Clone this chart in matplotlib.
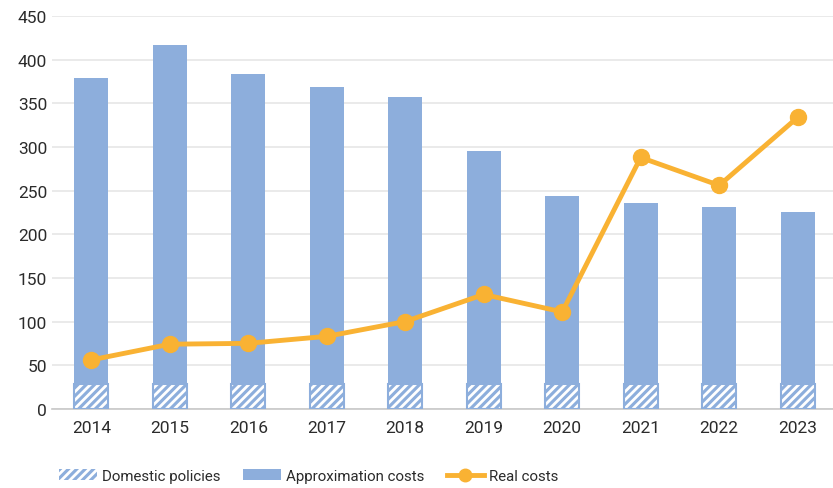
import numpy as np
import matplotlib
matplotlib.use("Agg")
import matplotlib.pyplot as plt
from matplotlib.patches import Patch
from matplotlib.lines import Line2D

plt.rcParams['font.family'] = ['Roboto', 'DejaVu Sans']
plt.rcParams['hatch.linewidth'] = 2.0

years = ['2014', '2015', '2016', '2017', '2018', '2019', '2020', '2021', '2022', '2023']
approx_costs = [379, 417, 384, 369, 357, 295, 244, 236, 231, 226]
domestic = [28, 28, 28, 28, 28, 28, 28, 28, 28, 28]
real_costs = [56, 74, 75, 83, 100, 131, 111, 288, 256, 334]

blue = '#8DAEDC'
orange = '#F9B233'

fig = plt.figure(figsize=(8.33, 4.89), dpi=100)
ax = fig.add_axes([0.0625, 0.162, 0.9375, 0.803])

x = np.arange(len(years))
w = 0.43
ax.bar(x, approx_costs, width=w, color=blue, zorder=2)
ax.bar(x, domestic, width=w, color=blue, edgecolor='white', hatch='////', linewidth=0, zorder=3)
ax.bar(x, domestic, width=w, fill=False, edgecolor=blue, linewidth=1.5, zorder=4)
ax.plot(x, real_costs, color=orange, lw=3.5, marker='o', ms=11.5, zorder=5)

ax.set_xlim(-0.5, len(years) - 0.55)
ax.set_ylim(0, 450)
ax.set_yticks(np.arange(0, 451, 50))
ax.set_xticks(x)
ax.set_xticklabels(years)
ax.tick_params(axis='both', length=0, labelsize=12.5, colors='#2b2b2b')
ax.tick_params(axis='x', pad=8)
ax.grid(axis='y', color='#E6E6E6', lw=1.2, zorder=0)
ax.set_axisbelow(True)
for s in ['top', 'right', 'left']:
    ax.spines[s].set_visible(False)
ax.spines['bottom'].set_color('#C8C8C8')
ax.spines['bottom'].set_linewidth(1.2)

handles = [
    Patch(facecolor=blue, edgecolor='white', hatch='////', linewidth=0),
    Patch(facecolor=blue),
    Line2D([0], [0], color=orange, lw=3.5, marker='o', ms=9),
]
labels = ['Domestic policies', 'Approximation costs', 'Real costs']
fig.legend(handles, labels, loc='center', bbox_to_anchor=(0.371, 0.025), ncol=3,
           frameon=False, fontsize=10.8, handlelength=2.5, columnspacing=1.5,
           handletextpad=0.35, labelcolor='#2b2b2b')

fig.savefig('out.png', dpi=100)
